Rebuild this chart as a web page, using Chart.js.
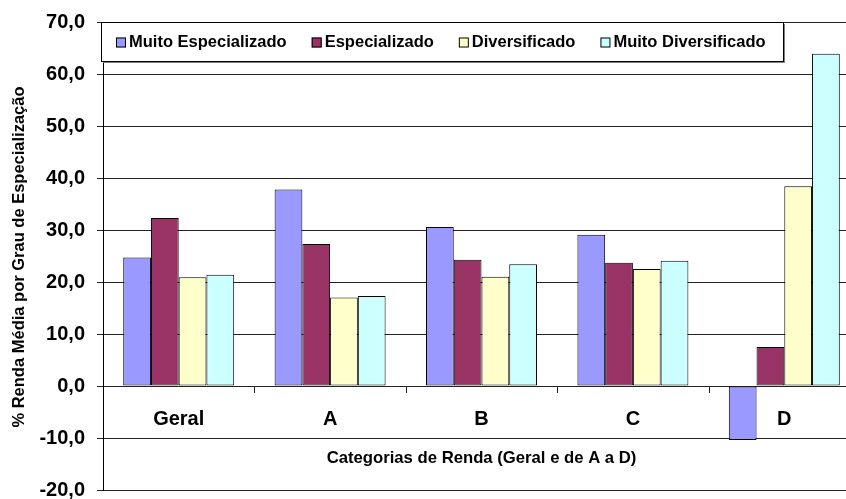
<!DOCTYPE html>
<html>
<head>
<meta charset="utf-8">
<script src="https://cdn.jsdelivr.net/npm/chart.js@4/dist/chart.umd.min.js"></script>
<style>
  html, body { margin: 0; padding: 0; background: #fff; overflow: hidden; width: 846px; height: 499px; }
  #wrap { position: absolute; left: 0; top: 0; width: 860px; height: 512px; }
  canvas { display: block; }
</style>
</head>
<body>
<div id="wrap"><canvas id="rendaChart" width="860" height="512"></canvas></div>
<script>
const categories = ["Geral", "A", "B", "C", "D"];
const seriesNames = ["Muito Especializado", "Especializado", "Diversificado", "Muito Diversificado"];
const muitoEspecializado = [24.7, 37.8, 30.6, 29.1, -10.4];
const especializado = [32.3, 27.3, 24.3, 23.7, 7.5];
const diversificado = [20.9, 17.0, 21.0, 22.5, 38.4];
const muitoDiversificado = [21.4, 17.3, 23.4, 24.1, 63.9];
const yMin = -20, yMax = 70, yStep = 10;
const xTitle = "Categorias de Renda (Geral e de A a D)";
const yTitle = "% Renda Média por Grau de Especialização";

const colors = ["#9999FF", "#993366", "#FFFFCC", "#CCFFFF"];
const FONT = "'Liberation Sans', Arial, sans-serif";

function fmt(v) {
  return v.toFixed(1).replace(".", ",");
}

// draws category labels at the zero line, axis titles and the boxed legend
const excelExtras = {
  id: "excelExtras",
  afterDraw(chart) {
    const ctx = chart.ctx;
    const x = chart.scales.x;
    const y = chart.scales.y;
    const y0 = y.getPixelForValue(0);
    const catW = x.getPixelForValue(1) - x.getPixelForValue(0);

    ctx.save();
    // tick marks between categories, below the zero line
    ctx.strokeStyle = "#222";
    ctx.lineWidth = 1;
    for (let i = 1; i < categories.length; i++) {
      const px = Math.round(x.getPixelForValue(i) - catW / 2) + 0.5;
      ctx.beginPath();
      ctx.moveTo(px, Math.round(y0));
      ctx.lineTo(px, Math.round(y0) + 7);
      ctx.stroke();
    }

    // category labels
    ctx.fillStyle = "#000";
    ctx.font = "bold 20px " + FONT;
    ctx.textAlign = "center";
    ctx.textBaseline = "middle";
    categories.forEach((c, i) => {
      ctx.fillText(c, x.getPixelForValue(i), y0 + 33);
    });

    // x title
    ctx.font = "bold 16.7px " + FONT;
    ctx.fillText(xTitle, (chart.chartArea.left + 846) / 2 + 7, y.getPixelForValue(-14));

    // y title
    ctx.save();
    ctx.translate(19, (chart.chartArea.top + chart.chartArea.bottom) / 2 + 1);
    ctx.rotate(-Math.PI / 2);
    ctx.font = "bold 16.5px " + FONT;
    ctx.fillText(yTitle, 0, 0);
    ctx.restore();

    // legend box with shadow
    const bx = 101, by = 22, bw = 682, bh = 39;
    ctx.fillStyle = "#808080";
    ctx.fillRect(bx + 2, by + 2, bw, bh);
    ctx.fillStyle = "#fff";
    ctx.fillRect(bx, by, bw, bh);
    ctx.strokeStyle = "#000";
    ctx.strokeRect(bx + 0.5, by + 0.5, bw, bh);

    ctx.font = "bold 16.5px " + FONT;
    ctx.textAlign = "left";
    ctx.textBaseline = "middle";
    let lx = 116;
    const ly = by + bh / 2 + 1;
    chart.data.datasets.forEach((ds) => {
      ctx.fillStyle = ds.backgroundColor;
      ctx.fillRect(lx, ly - 5, 10, 10);
      ctx.strokeStyle = "#000";
      ctx.strokeRect(lx + 0.5, ly - 4.5, 9, 9);
      ctx.fillStyle = "#000";
      ctx.fillText(ds.label, lx + 13, ly);
      lx += 13 + ctx.measureText(ds.label).width + 25;
    });
    ctx.restore();
  }
};

const seriesData = [muitoEspecializado, especializado, diversificado, muitoDiversificado];

new Chart(document.getElementById("rendaChart"), {
  type: "bar",
  data: {
    labels: categories,
    datasets: seriesNames.map((name, i) => ({
      label: name,
      data: seriesData[i],
      backgroundColor: colors[i],
      borderColor: "#000",
      borderWidth: 1,
      borderSkipped: false,
      categoryPercentage: 0.733,
      barPercentage: 1.0,
    })),
  },
  options: {
    responsive: false,
    animation: false,
    devicePixelRatio: 1,
    layout: { padding: { left: 0, right: 0, top: 16, bottom: 9 } },
    plugins: {
      legend: { display: false },
      tooltip: { enabled: false },
    },
    scales: {
      x: {
        display: false,
      },
      y: {
        min: yMin,
        max: yMax,
        afterFit(scale) {
          scale.width = 103;
        },
        ticks: {
          stepSize: yStep,
          padding: 12,
          color: "#000",
          font: { family: FONT, size: 20, weight: "bold", lineHeight: 1 },
          callback: (v) => fmt(v),
        },
        grid: {
          color: "#222",
          lineWidth: 1,
          tickLength: 6,
          drawTicks: true,
        },
        border: { display: true, color: "#000", width: 1 },
      },
    },
  },
  plugins: [excelExtras],
});
</script>
</body>
</html>
